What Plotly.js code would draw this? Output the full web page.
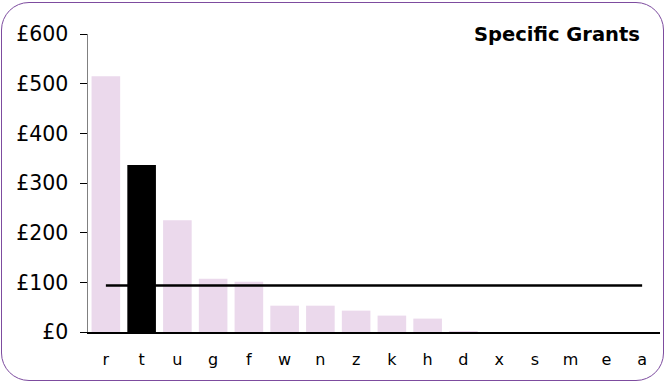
<!DOCTYPE html>
<html><head><meta charset="utf-8">
<script src="https://cdn.plot.ly/plotly-3.0.1.min.js"></script>
<style>
body{margin:0;background:#fff;}
#wrap{position:relative;width:666px;height:383px;}
#chart{position:absolute;left:0;top:0;width:666px;height:383px;}
#frame{position:absolute;left:1px;top:2px;width:661px;height:377px;border:1.6px solid #7d4c9f;border-radius:28px;pointer-events:none;}
</style></head>
<body><div id="wrap"><div id="chart"></div><div id="frame"></div></div>
<script>
const categories = ['r','t','u','g','f','w','n','z','k','h','d','x','s','m','e','a'];
const grants = [515, 336, 225, 107, 101, 53, 53, 43, 33, 27, 2, 0, 0, 0, 0, 0];
const highlight = 't';
const average = 93.5;
const yTicks = [0, 100, 200, 300, 400, 500, 600];
const chartTitle = 'Specific Grants';

const barColors = categories.map(c => c === highlight ? '#000000' : '#ebd9ec');
const avgLine = categories.map(() => average);

const traces = [
  {type:'bar', x:categories, y:grants, marker:{color:barColors}, width:0.8, hoverinfo:'x+y'},
  {type:'scatter', mode:'lines', x:categories, y:avgLine, line:{color:'#000', width:2.5}}
];
const layout = {
  width:666, height:383,
  margin:{l:88, r:6, t:33.5, b:50.7},
  paper_bgcolor:'rgba(0,0,0,0)', plot_bgcolor:'rgba(0,0,0,0)',
  showlegend:false,
  font:{family:'DejaVu Sans, Verdana, sans-serif', color:'#000'},
  xaxis:{type:'category', showgrid:false, zeroline:false, showline:true, linecolor:'#000', linewidth:1.5,
         ticks:'', tickfont:{size:16}, ticklen:0, ticklabelstandoff:12},
  yaxis:{range:[0,600], tickvals:yTicks, ticktext:yTicks.map(v=>'£'+v), showgrid:false, zeroline:false,
         showline:true, linecolor:'#808080', linewidth:1.5, ticks:'outside', ticklen:7, tickcolor:'#000',
         tickfont:{size:20.5}, ticklabelstandoff:7},
  annotations:[{text:'<b>'+chartTitle+'</b>', xref:'paper', yref:'paper', x:1 - (660-642)/572, y:1, xanchor:'right', yanchor:'middle',
                showarrow:false, font:{size:19.5}}],
  bargap:0.2
};
Plotly.newPlot('chart', traces, layout, {displayModeBar:false, staticPlot:true});
</script></body></html>
